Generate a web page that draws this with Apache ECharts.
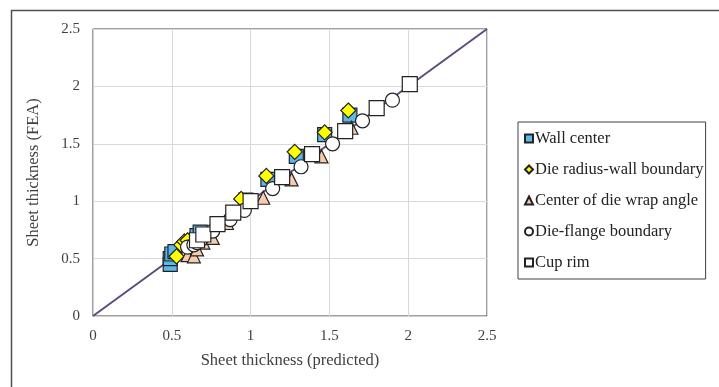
<!DOCTYPE html>
<html>
<head>
<meta charset="utf-8">
<script src="https://cdn.jsdelivr.net/npm/echarts@6/dist/echarts.min.js"></script>
<style>html,body{margin:0;padding:0;background:#fff;}#c{width:719px;height:387px;}</style>
</head>
<body>
<div id="c"></div>
<script>
var xTicks = [0, 0.5, 1, 1.5, 2, 2.5];
var yTicks = [0, 0.5, 1, 1.5, 2, 2.5];
var seriesNames = ['Wall center', 'Die radius-wall boundary', 'Center of die wrap angle', 'Die-flange boundary', 'Cup rim'];
var wallCenter = [[0.49,0.45],[0.49,0.50],[0.50,0.54],[0.52,0.56],[0.60,0.62],[0.66,0.70],[0.68,0.73],[0.97,1.01],[1.11,1.19],[1.29,1.39],[1.47,1.58],[1.63,1.75]];
var dieRadiusWall = [[0.53,0.52],[0.56,0.62],[0.58,0.65],[0.60,0.66],[0.94,1.02],[1.10,1.22],[1.28,1.43],[1.47,1.60],[1.62,1.79]];
var dieWrapCenter = [[0.60,0.53],[0.64,0.52],[0.66,0.58],[0.70,0.64],[0.76,0.68],[0.85,0.81],[1.08,1.03],[1.26,1.19],[1.45,1.39],[1.64,1.64]];
var dieFlange = [[0.60,0.60],[0.64,0.62],[0.66,0.64],[0.68,0.66],[0.76,0.74],[0.87,0.84],[0.96,0.92],[1.14,1.11],[1.32,1.30],[1.52,1.50],[1.71,1.70],[1.90,1.88]];
var cupRim = [[0.66,0.66],[0.70,0.71],[0.79,0.80],[0.89,0.90],[1.00,1.00],[1.20,1.21],[1.39,1.41],[1.60,1.61],[1.80,1.81],[2.01,2.02]];
var refLine = [[0,0],[2.5,2.5]];

var font = 'Liberation Serif';
var txt = '#404040';
var chart = echarts.init(document.getElementById('c'), null, {renderer:'canvas'});
function sc(name, data, symbol, size, fill){
  return {name:name, type:'scatter', data:data, symbol:symbol, symbolSize:size,
    itemStyle:{color:fill, borderColor:'#222', borderWidth:1.2, opacity:1}, z:3};
}
chart.setOption({
  animation:false,
  backgroundColor:'#fff',
  graphic:[{type:'rect', shape:{x:11.5,y:10.5,width:800,height:500}, style:{fill:'none', stroke:'#505050', lineWidth:1.5}, z:0}],
  grid:{left:93, top:29, right:232, bottom:71, show:true, borderColor:'#404040', borderWidth:1, backgroundColor:'transparent'},
  xAxis:{type:'value', min:0, max:2.5, interval:0.5,
    name:'Sheet thickness (predicted)', nameLocation:'middle', nameGap:36,
    nameTextStyle:{fontFamily:font, fontSize:16.5, color:txt},
    axisLine:{show:true, lineStyle:{color:'#d0d0d0', width:1}}, axisTick:{show:false},
    axisLabel:{fontFamily:font, fontSize:15, color:txt, margin:13, formatter:function(v){return xTicks.indexOf(v)>=0?String(v):'';}},
    splitLine:{show:true, lineStyle:{color:'#d9d9d9', width:1}}},
  yAxis:{type:'value', min:0, max:2.5, interval:0.5,
    name:'Sheet thickness (FEA)', nameLocation:'middle', nameGap:51,
    nameTextStyle:{fontFamily:font, fontSize:16.5, color:txt},
    axisLine:{show:true, lineStyle:{color:'#d0d0d0', width:1}}, axisTick:{show:false},
    axisLabel:{fontFamily:font, fontSize:15, color:txt, margin:13, formatter:function(v){return yTicks.indexOf(v)>=0?String(v):'';}},
    splitLine:{show:true, lineStyle:{color:'#d9d9d9', width:1}}},
  legend:{orient:'vertical', left:518, top:122, data:seriesNames,
    itemWidth:8, itemHeight:8, itemGap:14, padding:[8,2,8,6],
    borderColor:'#404040', borderWidth:1,
    textStyle:{fontFamily:font, fontSize:16.5, color:'#222', padding:[0,0,0,-3]}},
  series:[
    {name:'ref', type:'line', data:refLine, symbol:'none', lineStyle:{color:'#5D4B7E', width:2}, z:2, silent:true},
    sc(seriesNames[0], wallCenter, 'rect', 14, '#5BB8EA'),
    sc(seriesNames[1], dieRadiusWall, 'diamond', 15, '#FFFF00'),
    sc(seriesNames[2], dieWrapCenter, 'triangle', 13, '#F8CBAD'),
    sc(seriesNames[3], dieFlange, 'circle', 14, '#FFFFFF'),
    sc(seriesNames[4], cupRim, 'rect', 15, '#FFFFFF')
  ]
});
</script>
</body>
</html>
